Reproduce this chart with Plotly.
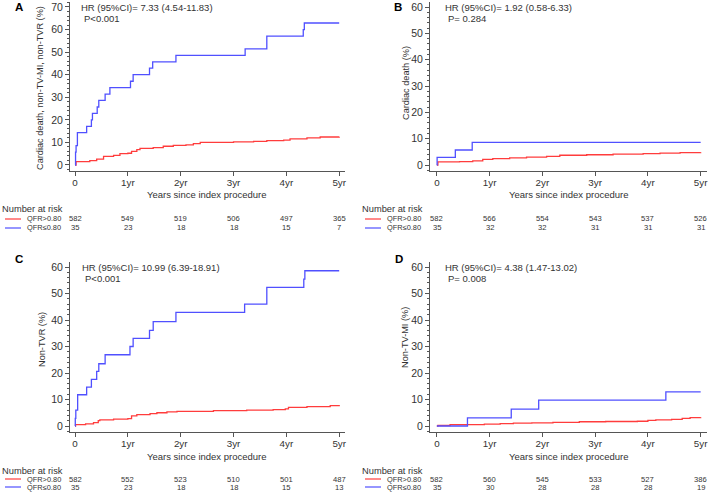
import plotly.graph_objects as go

W, H = 709, 492

# ---------------- data ----------------
years = [0, 1, 2, 3, 4, 5]
year_labels = ["0", "1yr", "2yr", "3yr", "4yr", "5yr"]

# Panel A: cardiac death, non-TV-MI, non-TVR
a_blue_t = [0, 0.01, 0.02, 0.045, 0.22, 0.31, 0.33, 0.42, 0.45, 0.57, 0.66, 1.05, 1.10, 1.41, 1.47, 1.91, 3.22, 3.63, 4.32, 4.34, 5.0]
a_blue_v = [0, 5.7, 8.6, 14.3, 17.1, 20.0, 22.9, 25.7, 28.6, 31.4, 34.3, 37.1, 40.0, 42.9, 45.7, 48.6, 51.4, 57.1, 60.0, 62.9, 62.9]
a_red_t = [0, 0.02, 0.28, 0.41, 0.54, 0.73, 0.85, 1.0, 1.07, 1.17, 1.23, 1.48, 1.67, 1.86, 2.1, 2.24, 2.37, 3.0, 3.38, 3.63, 3.95, 4.07, 4.39, 4.64, 5.0]
a_red_v = [0, 1.5, 1.9, 2.6, 3.8, 4.3, 5.0, 5.2, 6.0, 6.8, 7.4, 7.7, 8.3, 8.7, 8.9, 9.5, 10.0, 10.2, 10.5, 10.8, 11.0, 11.6, 12.0, 12.4, 12.5]

# Panel B: cardiac death
b_blue_t = [0, 0.005, 0.35, 0.67, 5.0]
b_blue_v = [0, 2.9, 5.7, 8.6, 8.6]
b_red_t = [0, 0.02, 0.43, 0.68, 0.87, 1.06, 1.38, 1.7, 2.08, 2.33, 2.84, 3.34, 3.91, 4.23, 4.61, 5.0]
b_red_v = [0, 1.2, 1.3, 1.6, 2.1, 2.4, 2.7, 3.0, 3.3, 3.7, 3.9, 4.1, 4.3, 4.5, 4.7, 4.8]

# Panel C: non-TVR
c_blue_t = [0, 0.005, 0.015, 0.05, 0.22, 0.31, 0.41, 0.45, 0.57, 1.04, 1.10, 1.41, 1.48, 1.91, 3.21, 3.63, 4.33, 4.35, 5.0]
c_blue_v = [0, 2.9, 6.0, 11.8, 14.7, 17.6, 20.6, 23.5, 26.9, 30.0, 33.1, 36.1, 39.4, 42.9, 46.0, 52.3, 55.4, 58.6, 58.6]
c_red_t = [0, 0.01, 0.2, 0.35, 0.44, 0.47, 0.73, 1.0, 1.07, 1.17, 1.42, 1.55, 1.74, 1.93, 2.62, 3.25, 3.75, 3.98, 4.04, 4.39, 4.83, 5.0]
c_red_v = [0, 0.5, 0.8, 1.3, 2.0, 2.3, 2.6, 2.8, 3.8, 4.3, 4.7, 5.0, 5.3, 5.5, 5.8, 6.0, 6.2, 6.5, 7.0, 7.3, 7.7, 7.9]

# Panel D: non-TV-MI
d_blue_t = [0, 0.58, 1.41, 1.93, 4.34, 5.0]
d_blue_v = [0, 3.1, 6.4, 9.8, 12.9, 12.9]
d_red_t = [0, 0.02, 0.25, 0.9, 1.2, 1.45, 1.8, 2.2, 2.7, 3.2, 3.8, 4.0, 4.15, 4.45, 4.65, 4.8, 5.0]
d_red_v = [0, 0.2, 0.5, 0.7, 0.9, 1.1, 1.2, 1.4, 1.6, 1.7, 1.8, 2.1, 2.3, 2.5, 2.9, 3.2, 3.3]

# numbers at risk
a_risk_hi = [582, 549, 519, 506, 497, 365]
a_risk_lo = [35, 23, 18, 18, 15, 7]
b_risk_hi = [582, 566, 554, 543, 537, 526]
b_risk_lo = [35, 32, 32, 31, 31, 31]
c_risk_hi = [582, 552, 523, 510, 501, 487]
c_risk_lo = [35, 23, 18, 18, 15, 13]
d_risk_hi = [582, 560, 545, 533, 527, 386]
d_risk_lo = [35, 30, 28, 28, 28, 19]

group_labels = ["QFR>0.80", "QFR\u22640.80"]
panel_letters = ["A", "B", "C", "D"]
y_titles = ["Cardiac death, non-TV-MI, non-TVR (%)", "Cardiac death (%)", "Non-TVR (%)", "Non-TV-MI (%)"]
hr_texts = ["HR (95%CI)= 7.33 (4.54-11.83)", "HR (95%CI)= 1.92 (0.58-6.33)",
            "HR (95%CI)= 10.99 (6.39-18.91)", "HR (95%CI)= 4.38 (1.47-13.02)"]
p_texts = ["P<0.001", "P= 0.284", "P<0.001", "P= 0.008"]
x_title = "Years since index procedure"
risk_title = "Number at risk"

# ---------------- style / layout ----------------
RED = "rgb(255,60,60)"
BLUE = "rgb(80,80,255)"
TXT = "#333333"
AX = "#555555"
FONT = "Liberation Sans, Arial, sans-serif"

def px(x):
    return x / W

def py(y):
    return 1 - y / H

panels = [
    dict(blue=(a_blue_t, a_blue_v), red=(a_red_t, a_red_v), risk=(a_risk_hi, a_risk_lo),
         xd=(70, 345), xr=(-0.095, 5.11), yd=(2, 171), yr=(-2.66, 72.2), dtick=10,
         lx=13, ly=7, hx=79, hy=7, ytx=40, yty=88, xtx=207, xty=194, rt=209, r1=219, r2=228),
    dict(blue=(b_blue_t, b_blue_v), red=(b_red_t, b_red_v), risk=(b_risk_hi, b_risk_lo),
         xd=(430, 707), xr=(-0.13, 5.12), yd=(2, 171), yr=(-2.28, 61.9), dtick=10,
         lx=392, ly=7, hx=443, hy=7, ytx=406, yty=83, xtx=569, xty=194, rt=209, r1=219, r2=228),
    dict(blue=(c_blue_t, c_blue_v), red=(c_red_t, c_red_v), risk=(c_risk_hi, c_risk_lo),
         xd=(70, 345), xr=(-0.095, 5.11), yd=(262, 432), yr=(-2.26, 61.9), dtick=10,
         lx=13, ly=259, hx=80, hy=267, ytx=42, yty=340, xtx=207, xty=456, rt=471, r1=479, r2=487),
    dict(blue=(d_blue_t, d_blue_v), red=(d_red_t, d_red_v), risk=(d_risk_hi, d_risk_lo),
         xd=(430, 707), xr=(-0.13, 5.12), yd=(262, 432), yr=(-2.26, 61.9), dtick=10,
         lx=393, ly=259, hx=443, hy=267, ytx=405, yty=338, xtx=569, xty=456, rt=471, r1=479, r2=487),
]

fig = go.Figure()
annotations = []
shapes = []
layout_axes = {}


def ann(x, y, text, size, xanchor="left", xref="paper", bold=False, angle=0):
    annotations.append(dict(x=x, y=y, xref=xref, yref="paper", text=(f"<b>{text}</b>" if bold else text),
                            showarrow=False, xanchor=xanchor, yanchor="middle", textangle=angle,
                            font=dict(size=size, color=("#000" if bold else TXT), family=FONT)))


for i, p in enumerate(panels):
    n = i + 1
    xa = "x" if n == 1 else f"x{n}"
    ya = "y" if n == 1 else f"y{n}"
    xkey = "xaxis" if n == 1 else f"xaxis{n}"
    ykey = "yaxis" if n == 1 else f"yaxis{n}"

    fig.add_trace(go.Scatter(x=p["red"][0], y=p["red"][1], mode="lines", line=dict(color=RED, width=1.3, shape="hv"),
                             xaxis=xa, yaxis=ya, showlegend=False, hoverinfo="skip"))
    fig.add_trace(go.Scatter(x=p["blue"][0], y=p["blue"][1], mode="lines", line=dict(color=BLUE, width=1.3, shape="hv"),
                             xaxis=xa, yaxis=ya, showlegend=False, hoverinfo="skip"))

    layout_axes[xkey] = dict(domain=[px(p["xd"][0]), px(p["xd"][1])], range=list(p["xr"]), anchor=ya,
                             tickvals=years, ticktext=year_labels, ticks="outside", ticklen=4, tickcolor=AX,
                             ticklabelstandoff=-2,
                             showline=True, linecolor=AX, linewidth=1, showgrid=False, zeroline=False,
                             tickfont=dict(size=9.8, color=TXT, family=FONT), fixedrange=True)
    layout_axes[ykey] = dict(domain=[py(p["yd"][1]), py(p["yd"][0])], range=list(p["yr"]), anchor=xa,
                             dtick=p["dtick"], tick0=0, ticks="outside", ticklen=4, tickcolor=AX,
                             minor=dict(dtick=2, tick0=0, ticks="outside", ticklen=2, tickcolor=AX),
                             showline=True, linecolor=AX, linewidth=1, showgrid=False, zeroline=False,
                             tickfont=dict(size=10.5, color=TXT, family=FONT), fixedrange=True)

    ann(px(p["lx"]), py(p["ly"]), panel_letters[i], 11.5, bold=True)
    ann(px(p["hx"]), py(p["hy"]), hr_texts[i], 9.5)
    ann(px(p["hx"] + 3), py(p["hy"] + 11), p_texts[i], 9.5)
    ann(px(p["ytx"]), py(p["yty"]), y_titles[i], 9.2, xanchor="center", angle=-90)
    ann(px(p["xtx"]), py(p["xty"]), x_title, 9.5, xanchor="center")

    # number at risk table
    x0 = 0 if p["xd"][0] < 200 else 360
    ann(px(x0), py(p["rt"]), risk_title, 9.3)
    for row_y, label, col, vals in [(p["r1"], group_labels[0], RED, p["risk"][0]),
                                    (p["r2"], group_labels[1], BLUE, p["risk"][1])]:
        shapes.append(dict(type="line", xref="paper", yref="paper", x0=px(x0 + 5), x1=px(x0 + 21),
                           y0=py(row_y), y1=py(row_y), line=dict(color=col, width=1.2)))
        ann(px(x0 + 25), py(row_y), label, 7.4)
        for yr, v in zip(years, vals):
            ann(yr, py(row_y), str(v), 7.6, xanchor="center", xref=xa)

fig.update_layout(
    width=W, height=H,
    margin=dict(l=0, r=0, t=0, b=0, autoexpand=False),
    paper_bgcolor="white", plot_bgcolor="white",
    annotations=annotations, shapes=shapes,
    font=dict(family=FONT, color=TXT),
    **layout_axes,
)

fig.write_html("out.html", config={"displayModeBar": False},
               post_script="document.body.style.margin='0px';document.body.style.overflow='hidden';")
